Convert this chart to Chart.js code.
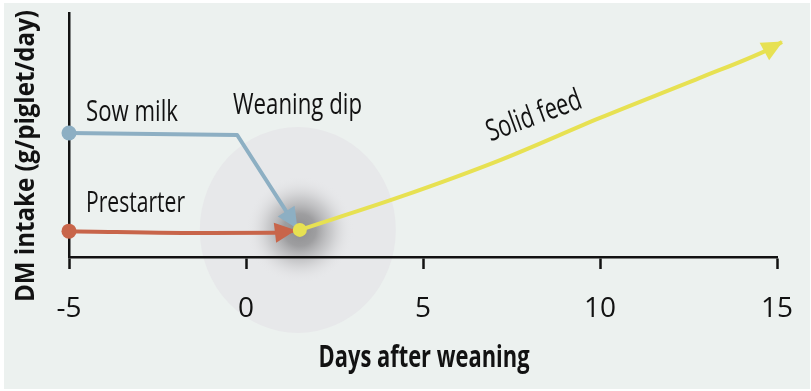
<!DOCTYPE html>
<html><head><meta charset="utf-8">
<script src="https://cdn.jsdelivr.net/npm/chart.js@4"></script>
<style>html,body{margin:0;padding:0;background:#fff;}canvas{display:block;}</style>
</head><body>
<canvas id="c" width="811" height="391"></canvas>
<script>
// ---- data ----
const xTicks = [-5, 0, 5, 10, 15];
const sowMilkDays = [-5, -0.25, 1.44];
const sowMilkIntake = [50.8, 50.0, 11.9];
const prestarterDays = [-5, -1, 0.8, 1.38];
const prestarterIntake = [10.6, 9.8, 9.9, 10.9];
const solidFeedDays = [1.52, 4.35, 7.18, 10.0, 12.82, 14.72, 15.14];
const solidFeedIntake = [11.1, 24.6, 39.7, 57.0, 73.4, 84.8, 88.1];
const seriesNames = ['Sow milk', 'Prestarter', 'Solid feed'];
const dipLabel = 'Weaning dip';
const xTitle = 'Days after weaning';
const yTitle = 'DM intake (g/piglet/day)';

const FONT = "'Open Sans', 'DejaVu Sans Condensed', sans-serif";
const INK = '#121212';
const toPts = (xs, ys) => xs.map((x, i) => ({x, y: ys[i]}));

// draw text squeezed horizontally to a given width (condensed look)
function drawText(ctx, text, x, y, size, bold, width, align, rot) {
  ctx.save();
  ctx.translate(x, y);
  if (rot) ctx.rotate(rot);
  ctx.font = (bold ? 'bold ' : '') + size + 'px ' + FONT;
  const w = ctx.measureText(text).width;
  ctx.scale(width / w, 1);
  ctx.textAlign = align;
  ctx.textBaseline = 'alphabetic';
  ctx.fillStyle = INK;
  ctx.fillText(text, 0, 0);
  ctx.restore();
}

const bgPlugin = {
  id: 'bg',
  beforeDraw(chart) {
    const ctx = chart.ctx;
    ctx.save();
    ctx.fillStyle = '#ffffff';
    ctx.fillRect(0, 0, chart.width, chart.height);
    ctx.fillStyle = '#ECF1EF';
    ctx.fillRect(4, 3, chart.width - 5, chart.height - 5);
    const xs = chart.scales.x, ys = chart.scales.y;
    const cx = xs.getPixelForValue(solidFeedDays[0]);
    const cy = ys.getPixelForValue(solidFeedIntake[0]);
    ctx.fillStyle = '#E7E8EA';
    ctx.beginPath();
    ctx.ellipse(cx - 2, cy, 98, 103, 0, 0, Math.PI * 2);
    ctx.fill();
    const R = 54;
    const g = ctx.createRadialGradient(cx, cy, 0, cx, cy, R);
    g.addColorStop(0, 'rgba(140,140,142,1)');
    g.addColorStop(0.3, 'rgba(150,150,152,0.9)');
    g.addColorStop(0.6, 'rgba(180,180,182,0.55)');
    g.addColorStop(0.85, 'rgba(215,215,217,0.22)');
    g.addColorStop(1, 'rgba(231,232,234,0)');
    ctx.fillStyle = g;
    ctx.beginPath();
    ctx.arc(cx, cy, R, 0, Math.PI * 2);
    ctx.fill();
    ctx.restore();
  }
};

const arrowPlugin = {
  id: 'arrows',
  afterDatasetDraw(chart, args) {
    const ds = chart.data.datasets[args.index];
    if (!ds.arrow) return;
    const pts = args.meta.data;
    const p = pts[pts.length - 1];
    const q = pts[pts.length - 2];
    let qx = q.x, qy = q.y;
    if (p.cp1x !== undefined && (Math.abs(p.cp1x - p.x) + Math.abs(p.cp1y - p.y)) > 0.5) { qx = p.cp1x; qy = p.cp1y; }
    const a = Math.atan2(p.y - qy, p.x - qx);
    const L = 20, W = 10;
    const ctx = chart.ctx;
    ctx.save();
    ctx.translate(p.x, p.y);
    ctx.rotate(a);
    ctx.fillStyle = ds.borderColor;
    ctx.beginPath();
    ctx.moveTo(1, 0);
    ctx.lineTo(-L, -W);
    ctx.lineTo(-L, W);
    ctx.closePath();
    ctx.fill();
    ctx.restore();
  }
};

const textPlugin = {
  id: 'texts',
  afterDraw(chart) {
    const ctx = chart.ctx;
    drawText(ctx, seriesNames[0], 86, 120.5, 30, false, 92, 'left');
    drawText(ctx, dipLabel, 233, 114, 30, false, 129, 'left');
    drawText(ctx, seriesNames[1], 86, 211.5, 30, false, 99, 'left');
    drawText(ctx, seriesNames[2], 537, 124.5, 30, false, 99, 'center', -20 * Math.PI / 180);
    drawText(ctx, xTitle, 424, 367, 30, true, 211, 'center');
    drawText(ctx, yTitle, 34, 156, 27, true, 292, 'center', -Math.PI / 2);
  }
};

const firstDot = r => (c => c.dataIndex === 0 ? r : 0);

new Chart(document.getElementById('c'), {
  type: 'line',
  data: {
    datasets: [
      {
        label: seriesNames[2], data: toPts(solidFeedDays, solidFeedIntake),
        borderColor: '#E7E152', backgroundColor: '#E7E152', borderWidth: 4,
        cubicInterpolationMode: 'monotone', pointRadius: firstDot(7), pointBorderWidth: 0,
        clip: false, arrow: true, borderCapStyle: 'butt'
      },
      {
        label: seriesNames[0], data: toPts(sowMilkDays, sowMilkIntake),
        borderColor: '#8DAFC3', backgroundColor: '#8DAFC3', borderWidth: 4, tension: 0,
        borderJoinStyle: 'round', pointRadius: firstDot(7.5), pointBorderWidth: 0,
        clip: false, arrow: true, borderCapStyle: 'butt'
      },
      {
        label: seriesNames[1], data: toPts(prestarterDays, prestarterIntake),
        borderColor: '#C8654A', backgroundColor: '#C8654A', borderWidth: 4,
        cubicInterpolationMode: 'monotone', pointRadius: firstDot(7.5), pointBorderWidth: 0,
        clip: false, arrow: true, borderCapStyle: 'butt'
      }
    ]
  },
  options: {
    responsive: false, animation: false, devicePixelRatio: 1,
    layout: { padding: { left: 0, top: 13, right: 34, bottom: 0 } },
    plugins: { legend: { display: false }, tooltip: { enabled: false } },
    scales: {
      x: {
        type: 'linear', min: xTicks[0], max: xTicks[xTicks.length - 1],
        afterFit: s => { s.height = 134; s.paddingLeft = 0; s.paddingRight = 0; },
        afterBuildTicks: s => { s.ticks = xTicks.map(v => ({value: v})); },
        border: { display: true, color: INK, width: 2.5 },
        grid: { display: true, drawOnChartArea: false, drawTicks: true, tickLength: 12, tickWidth: 2.5, tickColor: INK },
        ticks: { color: INK, font: { family: FONT, size: 28 }, padding: 23, maxRotation: 0 },
        title: { display: false }
      },
      y: {
        type: 'linear', min: 0, max: 100,
        afterFit: s => { s.width = 69; },
        border: { display: true, color: INK, width: 2.5 },
        grid: { display: false },
        ticks: { display: false }
      }
    }
  },
  plugins: [bgPlugin, arrowPlugin, textPlugin]
});
</script>
</body></html>
